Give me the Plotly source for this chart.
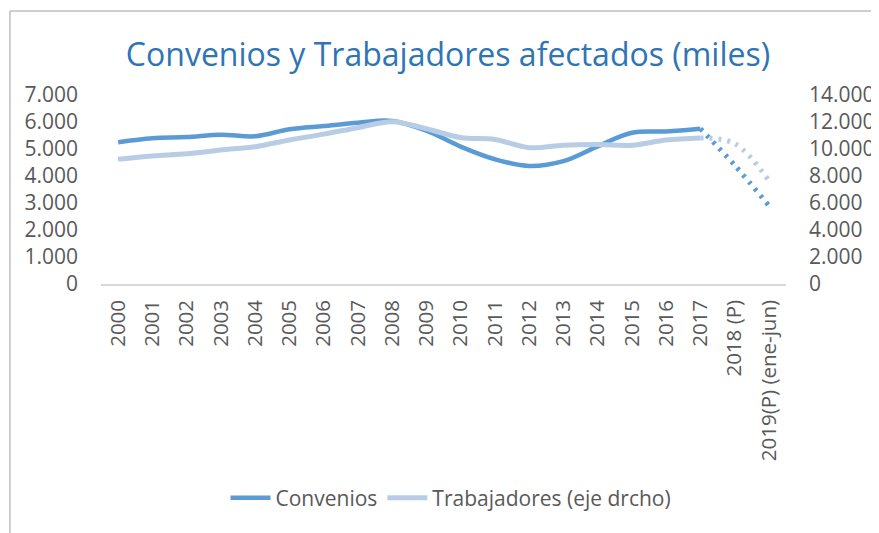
import plotly.graph_objects as go

categories = ["2000", "2001", "2002", "2003", "2004", "2005", "2006", "2007", "2008", "2009",
              "2010", "2011", "2012", "2013", "2014", "2015", "2016", "2017", "2018 (P)",
              "2019(P) (ene-jun)"]
convenios = [5250, 5400, 5440, 5530, 5470, 5730, 5850, 5970, 6040, 5680,
             5090, 4620, 4370, 4550, 5100, 5600, 5650, 5750, 4400, 2900]
trabajadores = [9240, 9480, 9640, 9930, 10170, 10670, 11100, 11580, 12020, 11500,
                10850, 10700, 10100, 10280, 10330, 10280, 10670, 10820, 10400, 7650]

n_solid = 18  # 2000..2017 solid, 2017..2019 dotted

C_DARK = "#5B9BD5"
C_LIGHT = "#B8CCE6"
GRAY = "#595959"
FONT = "Open Sans"

fig = go.Figure()
fig.add_trace(go.Scatter(x=categories[:n_solid], y=trabajadores[:n_solid], name="Trabajadores (eje drcho)",
                         mode="lines", line=dict(color=C_LIGHT, width=5, shape="spline", smoothing=1),
                         yaxis="y2", legendrank=2))
fig.add_trace(go.Scatter(x=categories[n_solid - 1:], y=trabajadores[n_solid - 1:], showlegend=False,
                         mode="lines", line=dict(color=C_LIGHT, width=5, shape="spline", smoothing=1,
                                                 dash="3px,6px"),
                         yaxis="y2"))
fig.add_trace(go.Scatter(x=categories[:n_solid], y=convenios[:n_solid], name="Convenios",
                         mode="lines", line=dict(color=C_DARK, width=4.5, shape="spline", smoothing=1),
                         legendrank=1))
fig.add_trace(go.Scatter(x=categories[n_solid - 1:], y=convenios[n_solid - 1:], showlegend=False,
                         mode="lines", line=dict(color=C_DARK, width=5, shape="spline", smoothing=1,
                                                 dash="3px,6px")))

W, H = 879, 533
OFF = 8  # page offset of the figure
L, R, T, B = 101 - OFF, W + OFF - 793, 95 - OFF, H - (284 - OFF)
pw = W - L - R
ph = H - T - B

def px_x(p):
    return (p - OFF - L) / pw

def px_y(p):
    return (H - B - (p - OFF)) / ph

fig.update_layout(
    width=W, height=H,
    margin=dict(l=L, r=R, t=T, b=B),
    paper_bgcolor="white", plot_bgcolor="white",
    separators=",.",
    font=dict(family=FONT, color=GRAY, size=20),
    title=dict(text="Convenios y Trabajadores afectados (miles)", x=(448 - OFF) / W, xanchor="center",
               y=1 - (55 - OFF) / H, yanchor="middle",
               font=dict(family=FONT, size=32, color="#2E75B6")),
    xaxis=dict(type="category", range=[-0.5, 19.5], showgrid=False, showline=True,
               linecolor="#D9D9D9", linewidth=1.5, ticks="", tickangle=-90,
               tickfont=dict(size=20.5, color=GRAY), ticklabelstandoff=6, zeroline=False),
    yaxis=dict(range=[0, 7000], dtick=1000, tickformat=",.0f", showgrid=False, zeroline=False,
               showline=False, ticks="", ticklabelstandoff=22, tickfont=dict(size=21, color=GRAY)),
    yaxis2=dict(range=[0, 14000], dtick=2000, tickformat=",.0f", overlaying="y", side="right",
                showgrid=False, zeroline=False, showline=False, ticks="", ticklabelstandoff=22,
                tickfont=dict(size=21, color=GRAY)),
    legend=dict(orientation="h", xref="container", yref="container", x=(451 - OFF) / W, xanchor="center",
                y=1 - (498 - OFF) / H, yanchor="middle", font=dict(size=21, color=GRAY),
                traceorder="normal", itemwidth=40),
    shapes=[
        dict(type="line", xref="paper", yref="paper", x0=px_x(9), x1=px_x(900), y0=px_y(11), y1=px_y(11),
             line=dict(color="#BFBFBF", width=1.5)),
        dict(type="line", xref="paper", yref="paper", x0=px_x(9), x1=px_x(9), y0=px_y(11), y1=px_y(560),
             line=dict(color="#BFBFBF", width=1.5)),
    ],
)

fig.write_html("out.html")
